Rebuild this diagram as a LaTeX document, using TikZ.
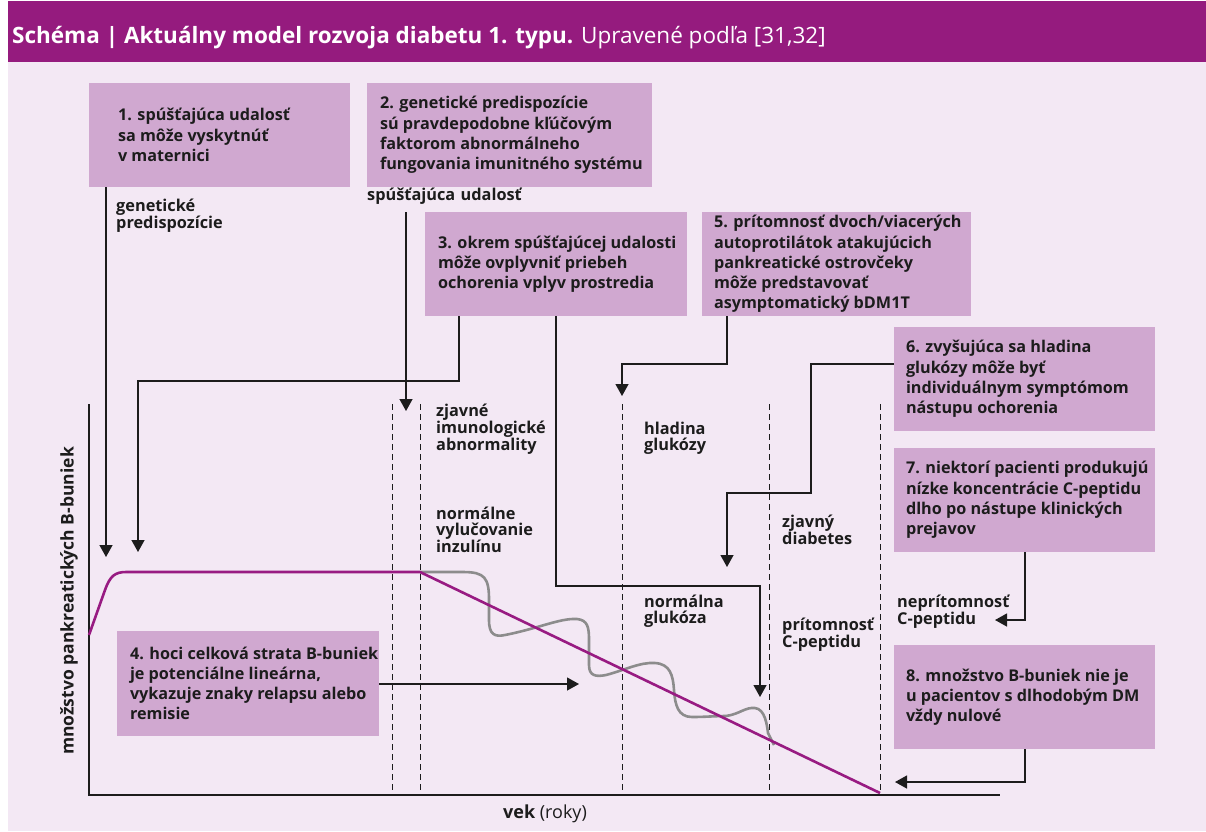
\documentclass[tikz,border=0pt]{standalone}
\usepackage{fontspec}
\setmainfont{Open Sans}
\newfontfamily\tfont{Open Sans}
\newfontfamily\bfont{Open Sans}
\usetikzlibrary{arrows.meta}
\definecolor{hdr}{RGB}{149,27,126}
\definecolor{bgc}{RGB}{243,232,244}
\definecolor{boxc}{RGB}{208,168,208}
\definecolor{curvec}{RGB}{152,27,130}
\definecolor{grayc}{RGB}{140,140,140}
\definecolor{ink}{RGB}{28,28,28}
\tikzset{
  boxnode/.style={fill=boxc, draw=none, inner sep=0pt},
  boxtext/.style={inner sep=0pt, anchor=west, align=left, text=ink,
    font=\bfont\bfseries\fontsize{16.2}{20.2}\selectfont},
  labnode/.style={inner sep=0pt, anchor=base west, align=left, text width=170pt, text=ink,
    font=\bfont\bfseries\fontsize{16.3}{16.2}\selectfont},
  arr/.style={draw=ink, line width=1.3pt, -{Triangle[width=13pt,length=12pt]}},
  axisline/.style={draw=ink, line width=1.3pt},
  dashline/.style={draw=ink, line width=1pt, dash pattern=on 6pt off 4pt},
}
\begin{document}
\begin{tikzpicture}[x=1pt,y=-1pt]
\useasboundingbox (0,0) rectangle (1206,831);
\fill[bgc] (8,1) rectangle (1206,831);
\fill[hdr] (8,1) rectangle (1206,62);
\node[anchor=base west, inner sep=0pt, text=white, font=\tfont\fontsize{22.5}{26}\selectfont] (title) at (12,43)
  {\textbf{Schéma | Aktuálny model rozvoja diabetu 1. typu.} Upravené podľa [31,32]};

% axes and dashed lines
\coordinate (ytop) at (89,404);
\coordinate (orig) at (89,795);
\coordinate (xend) at (1000,795);
\draw[axisline] (ytop) -- (orig) -- (xend);
\foreach \xx/\nm in {392/d1,420/d2,622/d3,769/d4,880/d5}{
  \coordinate (\nm t) at (\xx,404);
  \coordinate (\nm b) at (\xx,795);
  \draw[dashline] (\nm t) -- (\nm b);
}

% curves
\draw[grayc, line width=2.6pt, line join=round]
  (420,572) -- (463,572) .. controls (485,572) and (489,578) .. (489,600) -- (489,620)
  .. controls (489,635) and (495,637) .. (505,635)
  .. controls (540,628) and (560,618) .. (577,619)
  .. controls (588,620) and (589,628) .. (589,640) -- (589,665)
  .. controls (589,676) and (596,677) .. (606,675)
  .. controls (625,670) and (640,662) .. (655,663)
  .. controls (670,664) and (673,675) .. (674,690)
  .. controls (675,705) and (678,717) .. (692,717)
  .. controls (705,717) and (715,716) .. (726,716)
  .. controls (740,714) and (745,707) .. (755,708)
  .. controls (765,709) and (767,725) .. (768,733) -- (774,745);
\draw[curvec, line width=2.6pt, line join=round]
  (89,635) -- (105,590) .. controls (110,576) and (115,572) .. (126,572) -- (420,572) -- (880,793);

% boxes
\node[boxnode, minimum width=261pt, minimum height=104pt] (b1) at (219.5,135) {};
\node[boxtext] (b1t) at ([xshift=29pt]b1.west)
  {1. spúšťajúca udalosť\\sa môže vyskytnúť\\v maternici};
\node[boxnode, minimum width=285pt, minimum height=104pt] (b2) at (509.5,135) {};
\node[boxtext] (b2t) at ([xshift=13pt]b2.west)
  {2. genetické predispozície\\sú pravdepodobne kľúčovým\\faktorom abnormálneho\\fungovania imunitného systému};
\node[boxnode, minimum width=262pt, minimum height=104pt] (b3) at (556,264) {};
\node[boxtext] (b3t) at ([xshift=13pt]b3.west)
  {3. okrem spúšťajúcej udalosti\\môže ovplyvniť priebeh\\ochorenia vplyv prostredia};
\node[boxnode, minimum width=269pt, minimum height=104pt] (b5) at (836.5,264) {};
\node[boxtext] (b5t) at ([xshift=12pt]b5.west)
  {5. prítomnosť dvoch/viacerých\\autoprotilátok atakujúcich\\pankreatické ostrovčeky\\môže predstavovať\\asymptomatický bDM1T};
\node[boxnode, minimum width=261pt, minimum height=104pt] (b6) at (1024.5,379) {};
\node[boxtext] (b6t) at ([xshift=12pt]b6.west)
  {6. zvyšujúca sa hladina\\glukózy môže byť\\individuálnym symptómom\\nástupu ochorenia};
\node[boxnode, minimum width=261pt, minimum height=104pt] (b7) at (1024.5,500) {};
\node[boxtext] (b7t) at ([xshift=12pt]b7.west)
  {7. niektorí pacienti produkujú\\nízke koncentrácie C-peptidu\\dlho po nástupe klinických\\prejavov};
\node[boxnode, minimum width=261pt, minimum height=104pt] (b8) at (1024.5,697) {};
\node[boxtext] (b8t) at ([xshift=12pt]b8.west)
  {8. množstvo B-buniek nie je\\u pacientov s dlhodobým DM\\vždy nulové};
\node[boxnode, minimum width=262pt, minimum height=105pt] (b4) at (248,683.5) {};
\node[boxtext] (b4t) at ([xshift=13pt]b4.west)
  {4. hoci celková strata B-buniek\\je potenciálne lineárna,\\vykazuje znaky relapsu alebo\\remisie};

% labels
\node[labnode] (gp) at (116,211) {genetické\\predispozície};
\node[labnode] (su) at (367,200) {spúšťajúca udalosť};
\node[labnode] (zi) at (436,416) {zjavné\\imunologické\\abnormality};
\node[labnode] (nv) at (436,519) {normálne\\vylučovanie\\inzulínu};
\node[labnode] (hg) at (644,434) {hladina\\glukózy};
\node[labnode] (zd) at (782,527) {zjavný\\diabetes};
\node[labnode] (ng) at (644,607) {normálna\\glukóza};
\node[labnode] (pc) at (782,630) {prítomnosť\\C-peptidu};
\node[labnode] (nc) at (897,607) {neprítomnosť\\C-peptidu};

\node[inner sep=0pt, rotate=90, text=ink, font=\bfont\bfseries\fontsize{17.5}{20}\selectfont] (ylab) at (69,601)
  {množstvo pankreatických B-buniek};
\node[inner sep=0pt, anchor=base, text=ink, font=\bfont\fontsize{18}{21}\selectfont] (xlab) at (545,818)
  {\textbf{vek} (roky)};

% connectors
\coordinate (t1) at (106,557);
\draw[arr] (b1.south -| t1) -- (t1);

\coordinate (k2) at (459,381);
\coordinate (t2) at (138,552);
\draw[arr] (b3.south -| k2) -- (k2) -- (k2 -| t2) -- (t2);

\coordinate (s3) at (406,212);
\coordinate (t3) at (406,411);
\draw[arr] (s3) -- (t3);

\coordinate (k3) at (556,586);
\coordinate (t3b) at (760,697);
\draw[arr] (b3.south -| k3) -- (k3) -- (k3 -| t3b) -- (t3b);

\coordinate (t4) at (579,684);
\draw[arr] (b4.east |- t4) -- (t4);

\coordinate (k5) at (727,364);
\coordinate (t5) at (622,396);
\draw[arr] (b5.south -| k5) -- (k5) -- (k5 -| t5) -- (t5);

\coordinate (k6a) at (811,364);
\coordinate (k6b) at (811,493);
\coordinate (t6) at (727,567);
\draw[arr] (b6.west |- k6a) -- (k6a) -- (k6b) -- (k6b -| t6) -- (t6);

\coordinate (k7) at (1025,620);
\coordinate (t7) at (995,620);
\draw[arr] (b7.south -| k7) -- (k7) -- (t7);

\coordinate (k8) at (1025,782);
\coordinate (t8) at (895,782);
\draw[arr] (b8.south -| k8) -- (k8) -- (t8);
\end{tikzpicture}
\end{document}
